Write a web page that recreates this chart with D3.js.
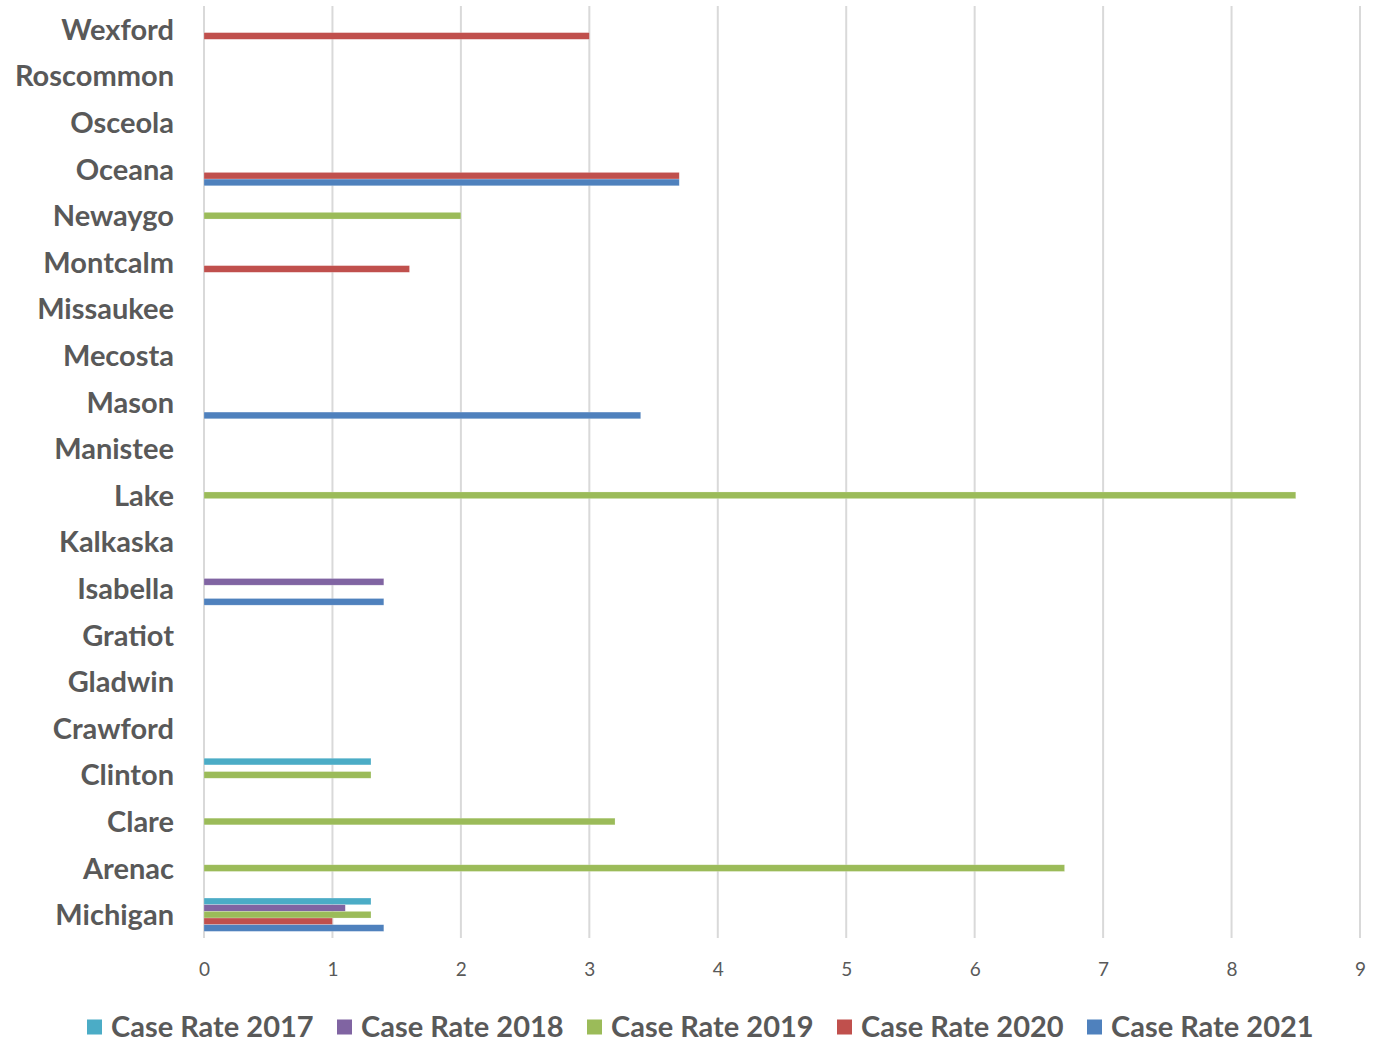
<!DOCTYPE html>
<html>
<head>
<meta charset="utf-8">
<script src="https://cdn.jsdelivr.net/npm/d3@7"></script>
<style>
  body { margin: 0; background: #fff; }
  text { font-family: Lato, "Open Sans", sans-serif; fill: #595959; }
</style>
</head>
<body>
<div id="chart"></div>
<script>
// categories listed bottom to top, as in the source sheet
const counties = ["Michigan", "Arenac", "Clare", "Clinton", "Crawford", "Gladwin", "Gratiot",
  "Isabella", "Kalkaska", "Lake", "Manistee", "Mason", "Mecosta", "Missaukee", "Montcalm",
  "Newaygo", "Oceana", "Osceola", "Roscommon", "Wexford"]
const seriesNames = ["Case Rate 2017", "Case Rate 2018", "Case Rate 2019", "Case Rate 2020", "Case Rate 2021"]
const seriesColors = ["#4BACC6", "#8064A2", "#9BBB59", "#C0504D", "#4F81BD"]

// one value per county (same order as counties), null = no bar
const rate2017 = [1.3, null, null, 1.3, null, null, null, null, null, null, null, null, null, null, null, null, null, null, null, null]
const rate2018 = [1.1, null, null, null, null, null, null, 1.4, null, null, null, null, null, null, null, null, null, null, null, null]
const rate2019 = [1.3, 6.7, 3.2, 1.3, null, null, null, null, null, 8.5, null, null, null, null, null, 2.0, null, null, null, null]
const rate2020 = [1.0, null, null, null, null, null, null, null, null, null, null, null, null, null, 1.6, null, 3.7, null, null, 3.0]
const rate2021 = [1.4, null, null, null, null, null, null, 1.4, null, null, null, 3.4, null, null, null, null, 3.7, null, null, null]
const allRates = [rate2017, rate2018, rate2019, rate2020, rate2021]
const xTicks = [0, 1, 2, 3, 4, 5, 6, 7, 8, 9]

const width = 1381, height = 1045
const margin = { top: 6, right: 21, bottom: 107, left: 204 }

const svg = d3.select("#chart").append("svg")
  .attr("width", width)
  .attr("height", height)

const x = d3.scaleLinear()
  .domain([0, 9])
  .range([margin.left, width - margin.right])

// top of chart = last county
const y = d3.scaleBand()
  .domain(counties.slice().reverse())
  .range([margin.top, height - margin.bottom])
  .paddingInner(0.285)
  .paddingOuter(0.1425)

const ySub = d3.scaleBand()
  .domain(seriesNames)
  .range([0, y.bandwidth()])

// gridlines
svg.append("g")
  .selectAll("line")
  .data(xTicks)
  .join("line")
  .attr("x1", d => x(d))
  .attr("x2", d => x(d))
  .attr("y1", margin.top)
  .attr("y2", height - margin.bottom)
  .attr("stroke", "#D9D9D9")
  .attr("stroke-width", 2)

// bars
const bars = []
counties.forEach((c, i) => {
  seriesNames.forEach((s, j) => {
    const v = allRates[j][i]
    if (v != null) bars.push({ county: c, series: s, color: seriesColors[j], value: v })
  })
})

svg.append("g")
  .selectAll("rect")
  .data(bars)
  .join("rect")
  .attr("x", x(0))
  .attr("y", d => y(d.county) + ySub(d.series))
  .attr("width", d => x(d.value) - x(0))
  .attr("height", ySub.bandwidth())
  .attr("fill", d => d.color)
  .attr("stroke", "rgba(255,255,255,0.35)")
  .attr("stroke-width", 0.6)

// x axis labels
const xAxis = svg.append("g")
  .attr("transform", `translate(0,${height - margin.bottom})`)
  .call(d3.axisBottom(x).tickValues(xTicks).tickSize(0).tickPadding(25))
xAxis.select(".domain").remove()
xAxis.selectAll("text")
  .style("font-family", "Lato, sans-serif")
  .style("font-size", "19px")
  .attr("fill", "#595959")

// y axis labels
const yAxis = svg.append("g")
  .attr("transform", `translate(${margin.left},0)`)
  .call(d3.axisLeft(y).tickSize(0).tickPadding(30))
yAxis.select(".domain").remove()
yAxis.selectAll("text")
  .attr("dy", "0.36em")
  .style("font-family", "Lato, sans-serif")
  .style("font-size", "29px")
  .style("font-weight", "bold")
  .attr("fill", "#595959")

// legend
const legend = svg.append("g")
  .selectAll("g")
  .data(seriesNames)
  .join("g")
  .attr("transform", (d, i) => `translate(${87 + i * 250},1027)`)

legend.append("rect")
  .attr("x", 0)
  .attr("y", -7.5)
  .attr("width", 15)
  .attr("height", 15)
  .attr("fill", (d, i) => seriesColors[i])

legend.append("text")
  .attr("x", 24)
  .attr("dy", "0.36em")
  .style("font-size", "29px")
  .style("font-weight", "bold")
  .text(d => d)
</script>
</body>
</html>
